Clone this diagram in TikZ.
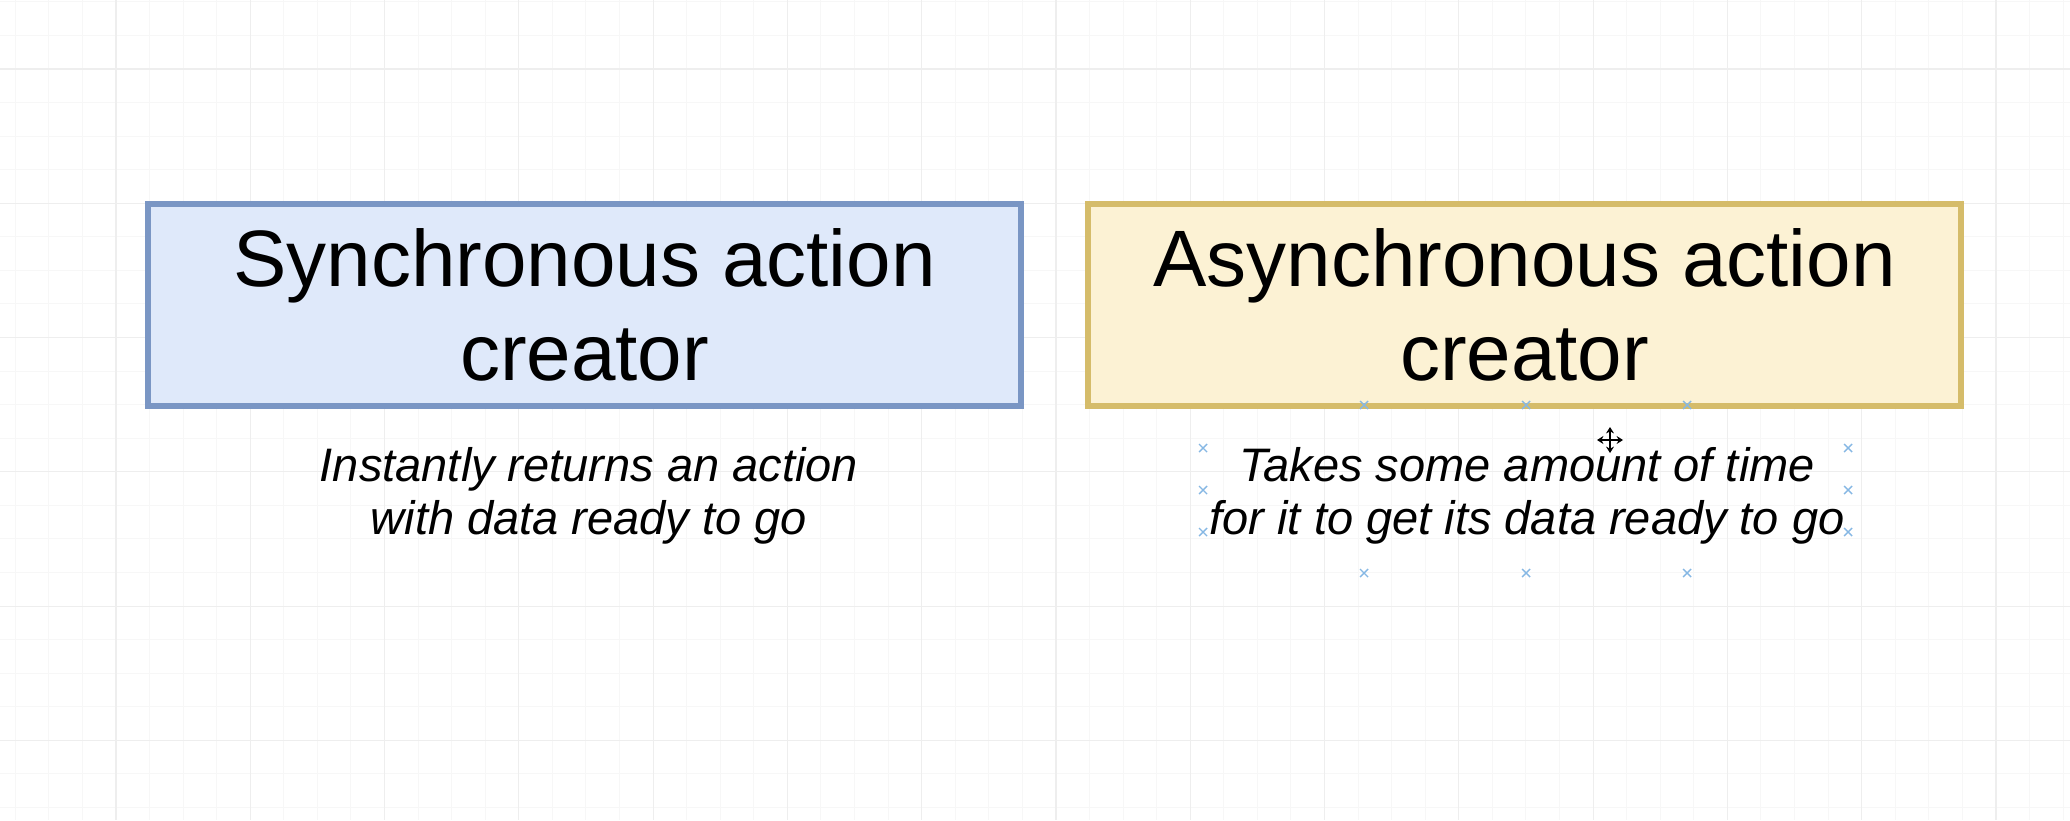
\documentclass[tikz,border=0pt]{standalone}
\usepackage{fontspec}
\setmainfont{Liberation Sans}
\usetikzlibrary{arrows.meta}
\definecolor{gridminor}{HTML}{F7F7F7}
\definecolor{gridmajor}{HTML}{EEEEEE}
\definecolor{bluefill}{HTML}{DFE9FA}
\definecolor{bluedraw}{HTML}{7A96C4}
\definecolor{yellowfill}{HTML}{FCF2D4}
\definecolor{yellowdraw}{HTML}{D5BC6A}
\definecolor{handle}{HTML}{86B8E4}
\tikzset{
  gridminorline/.style={draw=gridminor, line width=0.5pt},
  gridmajorline/.style={draw=gridmajor, line width=0.6pt},
  titlebox/.style={rectangle, minimum width=436.5pt, minimum height=101pt,
    line width=3pt, inner sep=0pt, align=center,
    font=\fontsize{40}{47}\selectfont},
  syncbox/.style={titlebox, fill=bluefill, draw=bluedraw},
  asyncbox/.style={titlebox, fill=yellowfill, draw=yellowdraw},
  caption/.style={inner sep=0pt, align=center,
    font=\fontsize{23.5}{26.5}\selectfont\itshape},
  handlemark/.style={draw=handle, line width=0.7pt},
  cursorarrow/.style={line width=1pt,
    {Stealth[length=3.2pt,width=4pt]}-{Stealth[length=3.2pt,width=4pt]}}
}
\begin{document}
\begin{tikzpicture}[x=0.5pt,y=-0.5pt]
\useasboundingbox (0,0) rectangle (2070,820);
\fill[white] (0,0) rectangle (2070,820);
% grid
\foreach \i in {-3,...,58}
  \draw[gridminorline] ({116+\i*33.57},0) -- ({116+\i*33.57},820);
\foreach \j in {-2,...,22}
  \draw[gridminorline] (0,{69+\j*33.57}) -- (2070,{69+\j*33.57});
\foreach \i in {-1,...,14}
  \draw[gridmajorline] ({116+\i*134.28},0) -- ({116+\i*134.28},820);
\foreach \j in {-1,...,5}
  \draw[gridmajorline] (0,{69+\j*134.28}) -- (2070,{69+\j*134.28});
% boxes
\node[syncbox] (sync) at (584.5,305) {Synchronous action\\creator};
\node[asyncbox] (async) at (1524.5,305) {Asynchronous action\\creator};
% captions
\node[caption] (syncnote) at (589,496) {Instantly returns an action\\with data ready to go};
\node[caption] (asyncnote) at (1527,496) {Takes some amount of time\\for it to get its data ready to go};
% selection handles
\foreach \x/\y in {1364/405,1526/405,1687/405,1203/448,1848/448,1203/490,1848/490,1203/532,1848/532,1364/573,1526/573,1687/573}
  \draw[handlemark] (\x-4,\y-4) -- (\x+4,\y+4) (\x-4,\y+4) -- (\x+4,\y-4);
% move cursor
\draw[white, line width=3pt] (1597,440) -- (1623,440) (1610,427) -- (1610,453);
\draw[cursorarrow] (1597,440) -- (1623,440);
\draw[cursorarrow] (1610,427) -- (1610,453);
\end{tikzpicture}
\end{document}
